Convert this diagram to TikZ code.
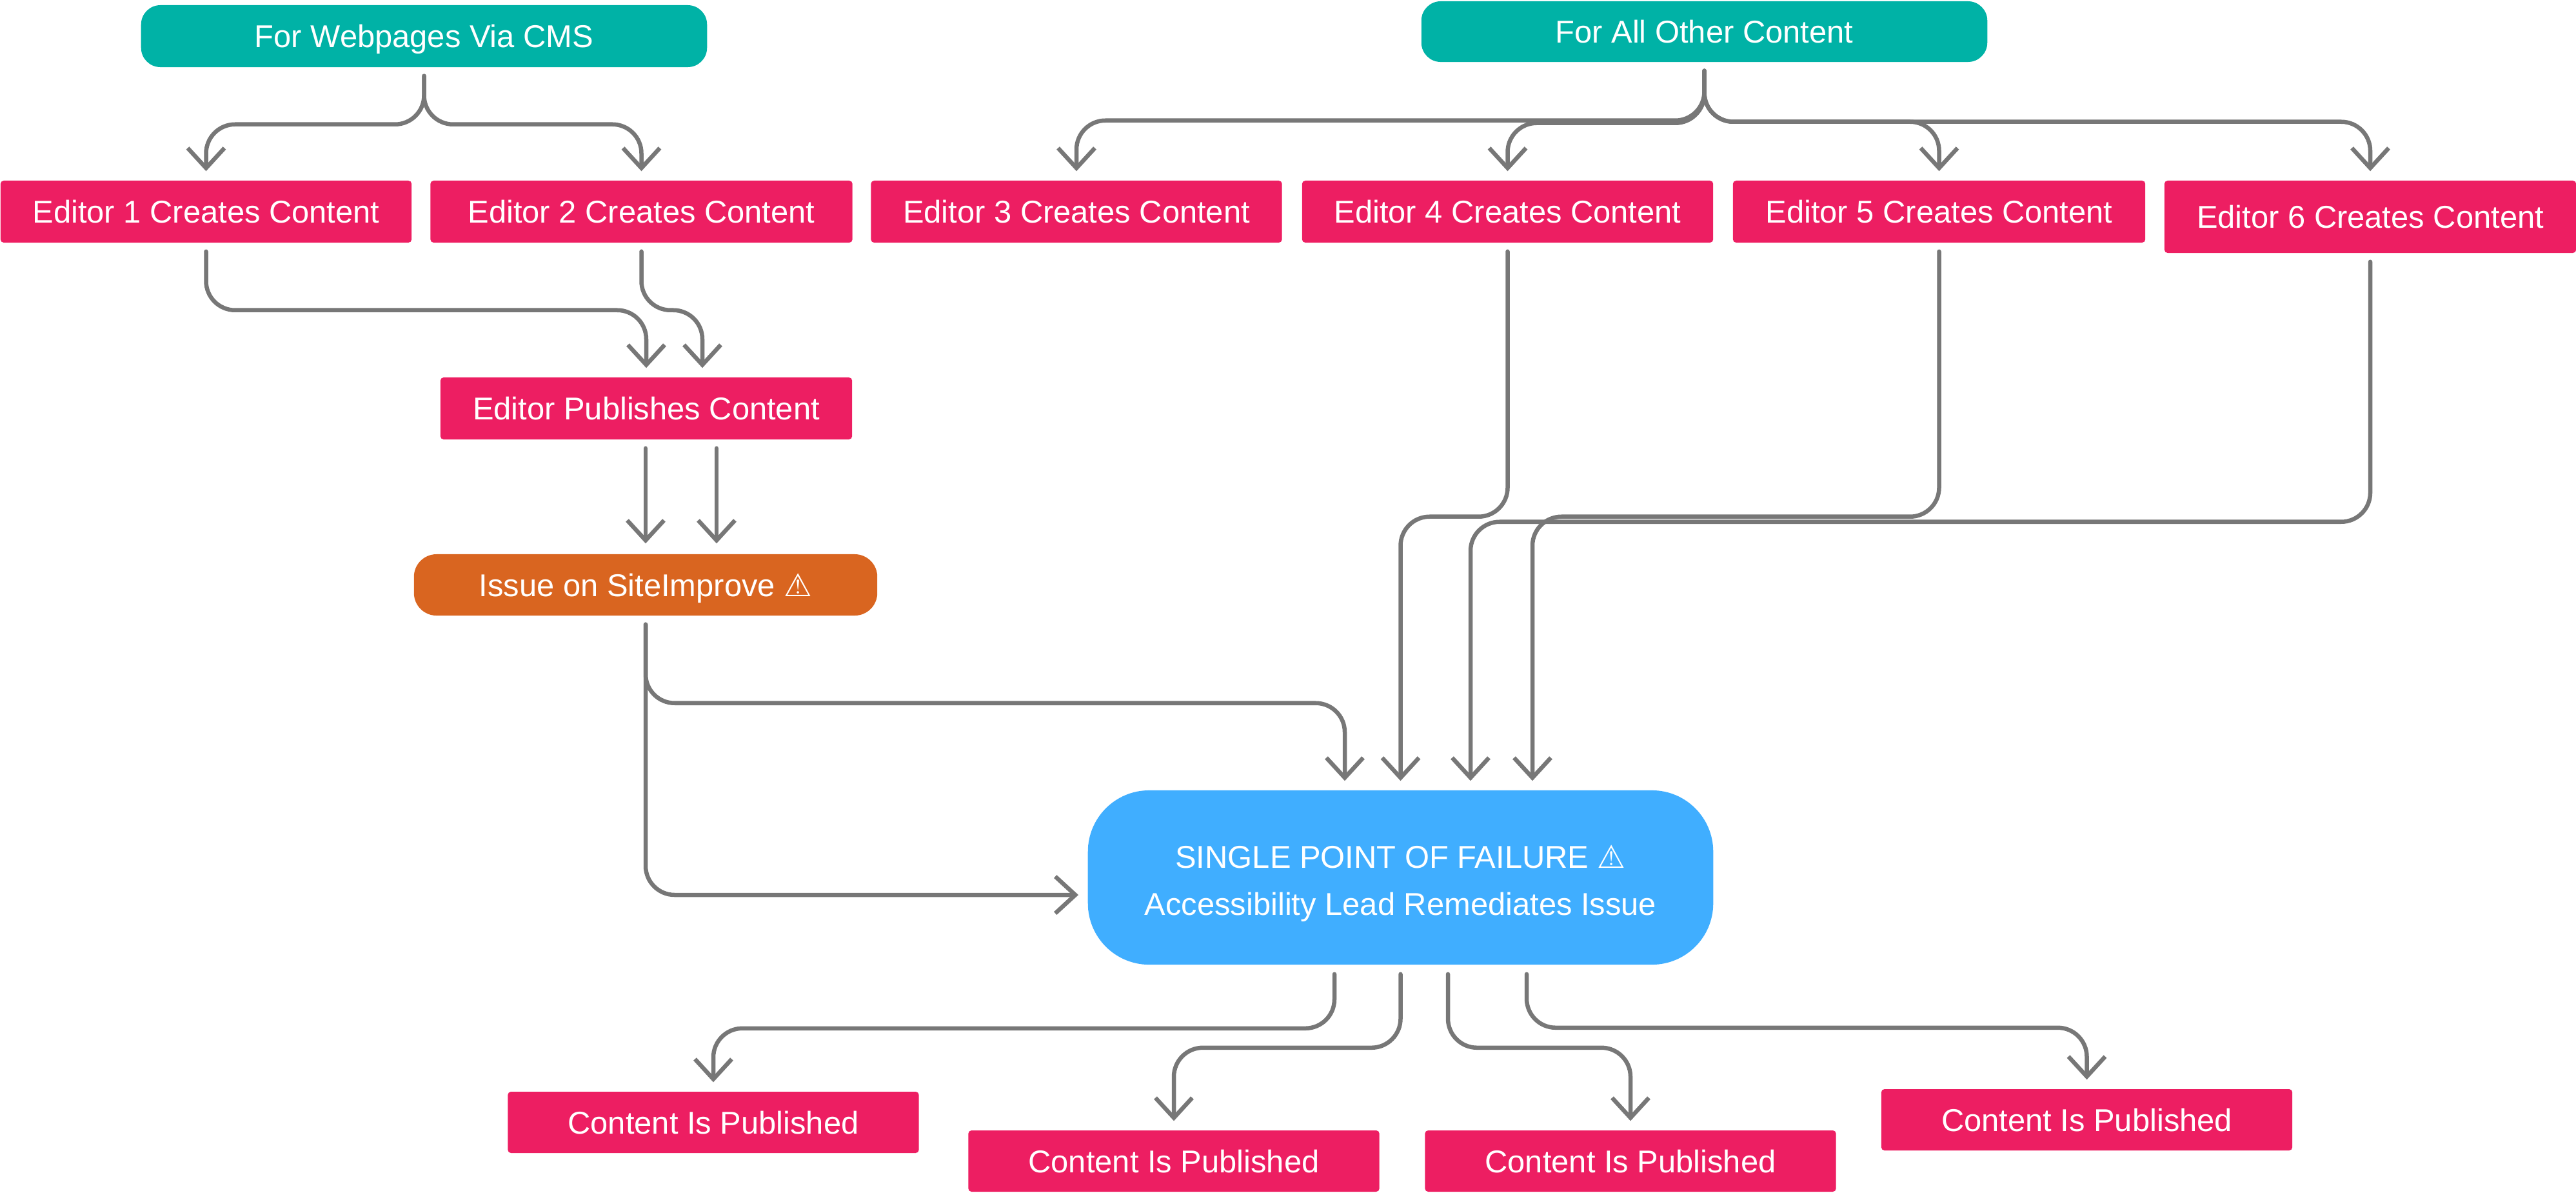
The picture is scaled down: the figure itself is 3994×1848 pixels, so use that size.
\documentclass[tikz,border=0pt]{standalone}
\usepackage{fontspec}
\setmainfont{Liberation Sans}
\newfontfamily\symfont{DejaVu Sans Bold}
\usetikzlibrary{arrows.meta,calc}
\definecolor{tealbox}{HTML}{00B2A6}
\definecolor{pinkbox}{HTML}{ED1E62}
\definecolor{orangebox}{HTML}{D96520}
\definecolor{bluebox}{HTML}{40AEFF}
\definecolor{linegray}{HTML}{777777}
\newcommand{\warnsym}{{\symfont ⚠}}
\begin{document}
\begin{tikzpicture}[x=0.01cm,y=-0.01cm,
  lbl/.style={text=white, font=\fontsize{13.9pt}{20.5pt}\selectfont, inner sep=0pt, align=center},
  onerow/.style={text height=0.35cm, text depth=0cm},
  topbox/.style={lbl, onerow, fill=tealbox, rounded corners=0.3cm, minimum width=8.77cm, minimum height=0.96cm},
  edbox/.style={lbl, onerow, fill=pinkbox, rounded corners=0.05cm, minimum width=6.37cm, minimum height=0.96cm},
  conn/.style={draw=linegray, line width=1.85pt, line cap=round, rounded corners=0.45cm,
    -{Straight Barb[length=0.31cm,width=0.57cm]}},
]
\useasboundingbox (0,0) rectangle (3994,1848);

% nodes
\node[topbox] (cms) at (657.5,56) {For Webpages Via CMS};
\node[topbox, minimum height=0.94cm] (other) at (2642.5,49) {For All Other Content};
\node[edbox] (e1) at (319.5,328) {Editor 1 Creates Content};
\node[edbox, minimum width=6.54cm] (e2) at (994.5,328) {Editor 2 Creates Content};
\node[edbox] (e3) at (1669,328) {Editor 3 Creates Content};
\node[edbox] (e4) at (2337.5,328) {Editor 4 Creates Content};
\node[edbox, minimum width=6.39cm] (e5) at (3006.5,328) {Editor 5 Creates Content};
\node[edbox, minimum width=6.38cm, minimum height=1.12cm] (e6) at (3675,336) {Editor 6 Creates Content};
\node[edbox, minimum width=6.38cm] (pub) at (1002,633) {Editor Publishes Content};
\node[lbl, onerow, fill=orangebox, rounded corners=0.35cm, minimum width=7.18cm, minimum height=0.95cm] (issue) at (1001,906.5) {Issue on SiteImprove \warnsym};
\node[lbl, fill=bluebox, rounded corners=0.95cm, minimum width=9.69cm, minimum height=2.70cm] (spof) at (2171.5,1360) {\rule{0pt}{0.54cm}SINGLE POINT OF FAILURE \warnsym\\Accessibility Lead Remediates Issue};
\node[edbox, minimum height=0.95cm] (c1) at (1106,1739.5) {Content Is Published};
\node[edbox, minimum height=0.95cm] (c2) at (1820,1799.5) {Content Is Published};
\node[edbox, minimum height=0.95cm] (c3) at (2528,1799.5) {Content Is Published};
\node[edbox, minimum height=0.95cm] (c4) at (3235.5,1735.5) {Content Is Published};

% top splits
\draw[conn] ($(cms.south)+(0,13)$) -- ++(0,75) -| ($(e1.north)+(0,-14)$);
\draw[conn] ($(cms.south)+(0,13)$) -- ++(0,75) -| ($(e2.north)+(0,-14)$);
\draw[conn] ($(other.south)+(0,13)$) -- ++(0,77) -| ($(e3.north)+(0,-14)$);
\draw[conn] ($(other.south)+(0,13)$) -- ++(0,81) -| ($(e4.north)+(0,-14)$);
\draw[conn] ($(other.south)+(0,13)$) -- ++(0,79) -| ($(e5.north)+(0,-14)$);
\draw[conn] ($(other.south)+(0,13)$) -- ++(0,79) -| ($(e6.north)+(0,-14)$);

% CMS path
\draw[conn] ($(e1.south)+(0,13)$) -- ++(0,91) -| ($(pub.north)+(0,-14)$);
\draw[conn] ($(e2.south)+(0,13)$) -- ++(0,91) -| ($(pub.north)+(87,-14)$);
\draw[conn] ($(pub.south)+(-1,13)$) -- ($(issue.north)+(0,-16)$);
\draw[conn] ($(pub.south)+(109,13)$) -- ($(issue.north)+(110,-16)$);
\draw[conn] ($(issue.south)+(0,13)$) -- ++(0,122) -| ($(spof.north)+(-86.5,-14)$);
\draw[conn] ($(issue.south)+(0,13)$) |- ($(spof.west)+(-14,27)$);

% other editors
\draw[conn] ($(e4.south)+(0,13)$) -- ++(0,411) -| ($(spof.north)+(0,-14)$);
\draw[conn] ($(e5.south)+(0,13)$) -- ++(0,411) -| ($(spof.north)+(204.5,-14)$);
\draw[conn] ($(e6.south)+(0,13)$) -- ++(0,403) -| ($(spof.north)+(108.5,-14)$);

% outputs
\draw[conn] ($(spof.south)+(-102.5,14)$) -- ++(0,84) -| ($(c1.north)+(0,-14)$);
\draw[conn] ($(spof.south)+(0,14)$) -- ++(0,114) -| ($(c2.north)+(0,-14)$);
\draw[conn] ($(spof.south)+(73.5,14)$) -- ++(0,114) -| ($(c3.north)+(0,-14)$);
\draw[conn] ($(spof.south)+(195.5,14)$) -- ++(0,83) -| ($(c4.north)+(0,-14)$);
\end{tikzpicture}
\end{document}
